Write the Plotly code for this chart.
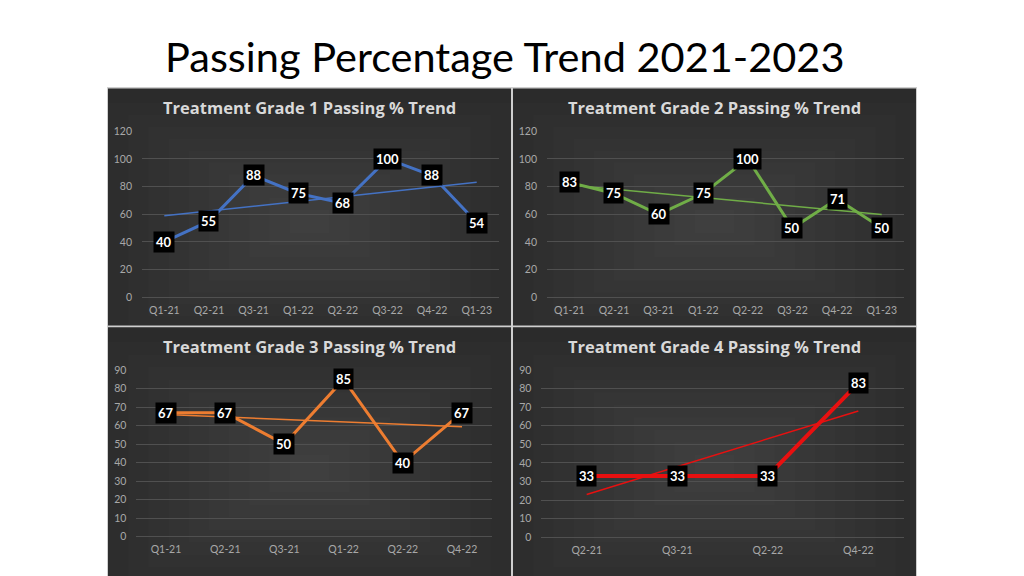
import plotly.graph_objects as go
import numpy as np

main_title = "Passing Percentage Trend 2021-2023"

g1_title = "Treatment Grade 1 Passing % Trend"
g1_quarters = ["Q1-21", "Q2-21", "Q3-21", "Q1-22", "Q2-22", "Q3-22", "Q4-22", "Q1-23"]
g1_values = [40, 55, 88, 75, 68, 100, 88, 54]

g2_title = "Treatment Grade 2 Passing % Trend"
g2_quarters = ["Q1-21", "Q2-21", "Q3-21", "Q1-22", "Q2-22", "Q3-22", "Q4-22", "Q1-23"]
g2_values = [83, 75, 60, 75, 100, 50, 71, 50]

g3_title = "Treatment Grade 3 Passing % Trend"
g3_quarters = ["Q1-21", "Q2-21", "Q3-21", "Q1-22", "Q2-22", "Q4-22"]
g3_values = [67, 67, 50, 85, 40, 67]

g4_title = "Treatment Grade 4 Passing % Trend"
g4_quarters = ["Q2-21", "Q3-21", "Q2-22", "Q4-22"]
g4_values = [33, 33, 33, 83]

W, H = 1024, 576
OFF = 8  # default page body margin


def px(x):
    return (x - OFF) / W


def py(y):
    return 1 - (y - OFF) / H


panels = [
    dict(title=g1_title, q=g1_quarters, v=g1_values, color="#4472C4", lw=3,
         ymax=120, dtick=20, xdom=(142, 499), ydom=(297.3, 127.7),
         box=(108, 84, 511, 326), tx=309, ty=103.5),
    dict(title=g2_title, q=g2_quarters, v=g2_values, color="#70AD47", lw=3,
         ymax=120, dtick=20, xdom=(547, 904), ydom=(297.3, 127.7),
         box=(513, 84, 916, 326), tx=714, ty=103.5),
    dict(title=g3_title, q=g3_quarters, v=g3_values, color="#ED7D31", lw=3,
         ymax=90, dtick=10, xdom=(136.4, 491.6), ydom=(541.7, 371.7),
         box=(108, 328, 511, 584), tx=309, ty=347.5),
    dict(title=g4_title, q=g4_quarters, v=g4_values, color="#E81010", lw=4,
         ymax=90, dtick=10, xdom=(541.4, 903.6), ydom=(542.3, 371.7),
         box=(513, 328, 916, 584), tx=714, ty=347.5),
]

fig = go.Figure()
shapes = []
annotations = []

shapes.append(dict(type="rect", xref="paper", yref="paper", x0=px(107), x1=px(917),
                   y0=py(584), y1=py(82.5), fillcolor="#cfcfcf", line=dict(width=0), layer="below"))

tick_font = dict(family="Lato", size=10.5, color="#a8a8a8")

for i, p in enumerate(panels):
    n = i + 1
    sfx = "" if n == 1 else str(n)
    x0, y0, x1, y1 = p["box"]
    shapes.append(dict(type="rect", xref="paper", yref="paper", x0=px(x0), x1=px(x1),
                       y0=py(y1), y1=py(y0), fillcolor="#2b2b2b", line=dict(width=0), layer="below"))
    cx, cy = (x0 + x1) / 2, (y0 + y1) / 2 + 15
    steps = 10
    for k in range(steps):
        f = 1 - k / steps
        hw = (x1 - x0) / 2 * f
        hh = (y1 - y0) / 2 * f
        shapes.append(dict(type="rect", xref="paper", yref="paper",
                           x0=px(max(x0, cx - hw)), x1=px(min(x1, cx + hw)),
                           y0=py(min(y1, cy + hh)), y1=py(max(y0, cy - hh)),
                           fillcolor="rgba(255,255,255,0.013)", line=dict(width=0), layer="below"))

    xa = dict(domain=[px(p["xdom"][0]), px(p["xdom"][1])], anchor="y" + sfx,
              type="category", categoryorder="array", categoryarray=p["q"],
              range=[-0.5, len(p["q"]) - 0.5], showgrid=False, zeroline=False,
              showline=False, ticks="", tickfont=tick_font, ticklabelstandoff=5,
              fixedrange=True)
    ya = dict(domain=[py(p["ydom"][0]), py(p["ydom"][1])], anchor="x" + sfx,
              range=[0, p["ymax"]], dtick=p["dtick"], tick0=0, showgrid=True,
              gridcolor="#505050", gridwidth=1, zeroline=True, zerolinecolor="#505050",
              zerolinewidth=1, showline=False, ticks="", tickfont=tick_font,
              ticklabelstandoff=9, fixedrange=True)
    fig.layout["xaxis" + sfx] = xa
    fig.layout["yaxis" + sfx] = ya

    idx = np.arange(len(p["v"]))
    slope, icpt = np.polyfit(idx, np.array(p["v"], dtype=float), 1)
    trend = slope * idx + icpt

    fig.add_trace(go.Scatter(x=p["q"], y=trend, mode="lines",
                             line=dict(color=p["color"], width=1.5),
                             xaxis="x" + sfx, yaxis="y" + sfx, hoverinfo="skip",
                             showlegend=False))
    fig.add_trace(go.Scatter(x=p["q"], y=p["v"], mode="lines",
                             line=dict(color=p["color"], width=p["lw"]),
                             xaxis="x" + sfx, yaxis="y" + sfx, showlegend=False))
    for q, v in zip(p["q"], p["v"]):
        annotations.append(dict(x=q, y=v, xref="x" + sfx, yref="y" + sfx, text=str(v),
                                showarrow=False, bgcolor="#000000", borderpad=2,
                                font=dict(family="Lato", size=13, color="#ffffff",
                                          weight="bold"),
                                xanchor="center", yanchor="middle"))
    annotations.append(dict(x=px(p["tx"]), y=py(p["ty"]), xref="paper", yref="paper",
                            text=p["title"], showarrow=False, xanchor="center",
                            yanchor="middle",
                            font=dict(family="Open Sans", size=16.5, color="#d9d9d9",
                                      weight="bold")))

annotations.append(dict(x=px(505), y=py(51), xref="paper", yref="paper", text=main_title,
                        showarrow=False, xanchor="center", yanchor="middle",
                        font=dict(family="Lato", size=41.5, color="#000000")))

fig.update_layout(width=W, height=H, margin=dict(l=0, r=0, t=0, b=0),
                  paper_bgcolor="#ffffff", plot_bgcolor="rgba(0,0,0,0)",
                  shapes=shapes, annotations=annotations, showlegend=False)

fig.write_html("out.html")
